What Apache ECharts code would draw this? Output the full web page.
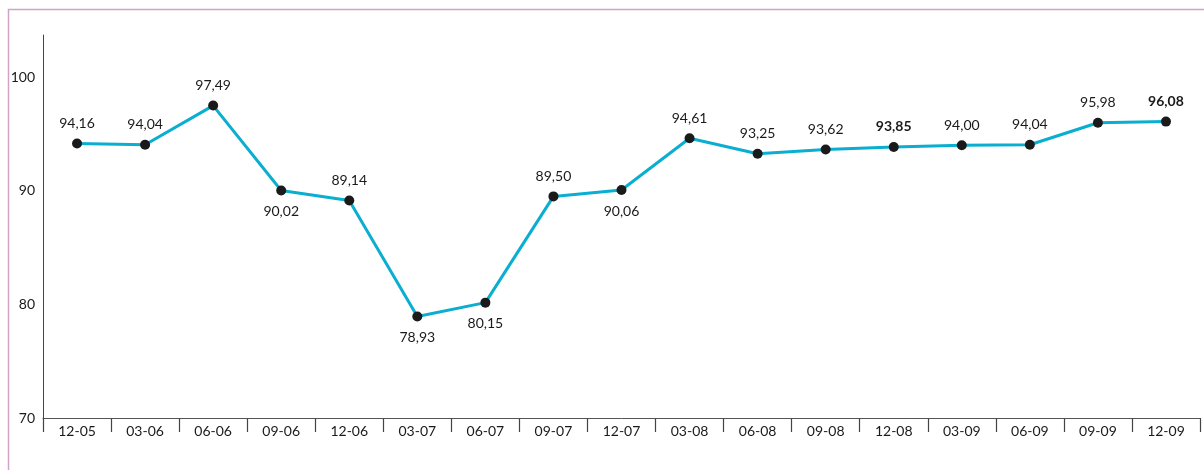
<!DOCTYPE html>
<html><head><meta charset="utf-8">
<script src="https://cdn.jsdelivr.net/npm/echarts@6/dist/echarts.min.js"></script>
<style>html,body{margin:0;padding:0;background:#fff}#c{width:1204px;height:470px}</style>
</head><body><div id="c"></div>
<script>
const categories = ['12-05','03-06','06-06','09-06','12-06','03-07','06-07','09-07','12-07','03-08','06-08','09-08','12-08','03-09','06-09','09-09','12-09'];
const values = [94.16,94.04,97.49,90.02,89.14,78.93,80.15,89.50,90.06,94.61,93.25,93.62,93.85,94.00,94.04,95.98,96.08];
const labelBelow = [false,false,false,true,false,true,true,false,true,false,false,false,false,false,false,false,false];
const labelBold = [false,false,false,false,false,false,false,false,false,false,false,false,true,false,false,false,true];
const yTicks = [70,80,90,100];

const font = 'Lato, "Open Sans", sans-serif';
const data = values.map((v,i)=>({
  value: v,
  label: {
    position: labelBelow[i] ? 'bottom' : 'top',
    distance: labelBelow[i] ? 9 : 8,
    fontWeight: labelBold[i] ? 'bold' : 'normal'
  }
}));

const chart = echarts.init(document.getElementById('c'), null, {renderer:'canvas'});
chart.setOption({
  animation: false,
  graphic: [{
    type: 'rect', shape: {x: 8.5, y: 9.5, width: 1210, height: 480},
    style: {fill: 'none', stroke: '#d3a3c6', lineWidth: 1.5}, silent: true
  }],
  grid: {left: 43, right: 4, top: 35, bottom: 52},
  xAxis: {
    type: 'category', data: categories, boundaryGap: true,
    axisLine: {lineStyle: {color: '#555', width: 1}},
    axisTick: {show: true, length: 14, lineStyle: {color: '#444', width: 1.2}},
    axisLabel: {color: '#1a1a1a', fontSize: 14, fontFamily: font, margin: 6}
  },
  yAxis: {
    type: 'value', min: 70, max: 103.7, interval: 10,
    axisLine: {show: true, lineStyle: {color: '#444', width: 1}},
    axisTick: {show: false},
    splitLine: {show: false},
    axisLabel: {color: '#1a1a1a', fontSize: 14, fontFamily: font, margin: 8, showMaxLabel: false,
      padding: [0,0,8,0],
      formatter: v => yTicks.includes(v) ? String(v) : ''}
  },
  series: [{
    type: 'line', data: data,
    symbol: 'circle', symbolSize: 10,
    lineStyle: {color: '#0aaed0', width: 3},
    itemStyle: {color: '#1a1a1a'},
    label: {show: true, color: '#1a1a1a', fontSize: 14, fontFamily: font,
      formatter: p => p.value.toFixed(2).replace('.', ',')}
  }]
});
</script></body></html>
